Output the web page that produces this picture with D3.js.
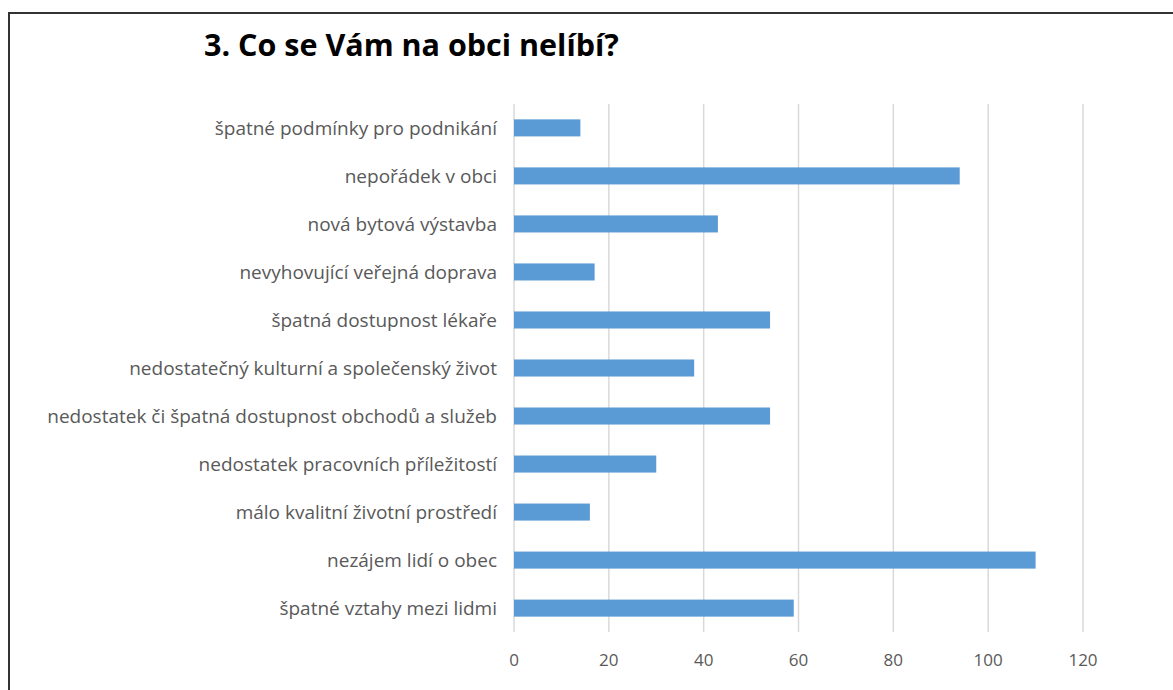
<!DOCTYPE html>
<html lang="cs">
<head>
<meta charset="UTF-8">
<title>3. Co se Vám na obci nelíbí?</title>
<script src="https://d3js.org/d3.v7.min.js"></script>
<style>
  body { margin: 0; background: #fff; }
  .label { font-family: "Open Sans", sans-serif; fill: #595959; }
</style>
</head>
<body>
<div id="chart"></div>
<script>
// data (top to bottom)
var categories = [
  "špatné podmínky pro podnikání",
  "nepořádek v obci",
  "nová bytová výstavba",
  "nevyhovující veřejná doprava",
  "špatná dostupnost lékaře",
  "nedostatečný kulturní a společenský život",
  "nedostatek či špatná dostupnost obchodů a služeb",
  "nedostatek pracovních příležitostí",
  "málo kvalitní životní prostředí",
  "nezájem lidí o obec",
  "špatné vztahy mezi lidmi"
];
var values = [14, 94, 43, 17, 54, 38, 54, 30, 16, 110, 59];
var xTicks = [0, 20, 40, 60, 80, 100, 120];
var title = "3. Co se Vám na obci nelíbí?";

var W = 1173, H = 690;
var margin = {top: 104, right: 90, bottom: 58, left: 514};

var svg = d3.select("#chart").append("svg")
    .attr("width", W)
    .attr("height", H);

// frame round the chart
svg.append("path")
    .attr("d", "M9,690 V13 H1173")
    .attr("fill", "none")
    .attr("stroke", "#333")
    .attr("stroke-width", 2);

// title
svg.append("text")
    .attr("x", 204)
    .attr("y", 56)
    .style("font-family", "'Open Sans', sans-serif")
    .style("font-weight", "bold")
    .style("font-size", "30.5px")
    .style("fill", "#000")
    .text(title);

var g = svg.append("g")
    .attr("transform", "translate(" + margin.left + "," + margin.top + ")");

var x = d3.scaleLinear()
    .domain([0, 120])
    .range([0, 569]);

var y = d3.scaleBand()
    .domain(categories)
    .range([0, 528])
    .paddingInner(0.645)
    .paddingOuter(0.32);

// vertical gridlines
g.append("g")
  .selectAll("line")
  .data(xTicks)
  .join("line")
    .attr("x1", function(d) { return x(d); })
    .attr("x2", function(d) { return x(d); })
    .attr("y1", 0)
    .attr("y2", 528)
    .attr("stroke", "#d9d9d9")
    .attr("stroke-width", 1.5);

// x tick labels
g.append("g")
  .selectAll("text")
  .data(xTicks)
  .join("text")
    .attr("class", "label")
    .attr("x", function(d) { return x(d); })
    .attr("y", 562)
    .attr("text-anchor", "middle")
    .style("font-size", "17px")
    .text(function(d) { return d; });

// bars
g.append("g")
  .selectAll("rect")
  .data(values)
  .join("rect")
    .attr("x", x(0))
    .attr("y", function(d, i) { return y(categories[i]); })
    .attr("width", function(d) { return x(d) - x(0); })
    .attr("height", y.bandwidth())
    .attr("fill", "#5b9bd5");

// category labels
g.append("g")
  .selectAll("text")
  .data(categories)
  .join("text")
    .attr("class", "label")
    .attr("x", -17)
    .attr("y", function(d) { return y(d) + y.bandwidth() / 2; })
    .attr("dy", "0.35em")
    .attr("text-anchor", "end")
    .style("font-size", "19px")
    .text(function(d) { return d; });
</script>
</body>
</html>
